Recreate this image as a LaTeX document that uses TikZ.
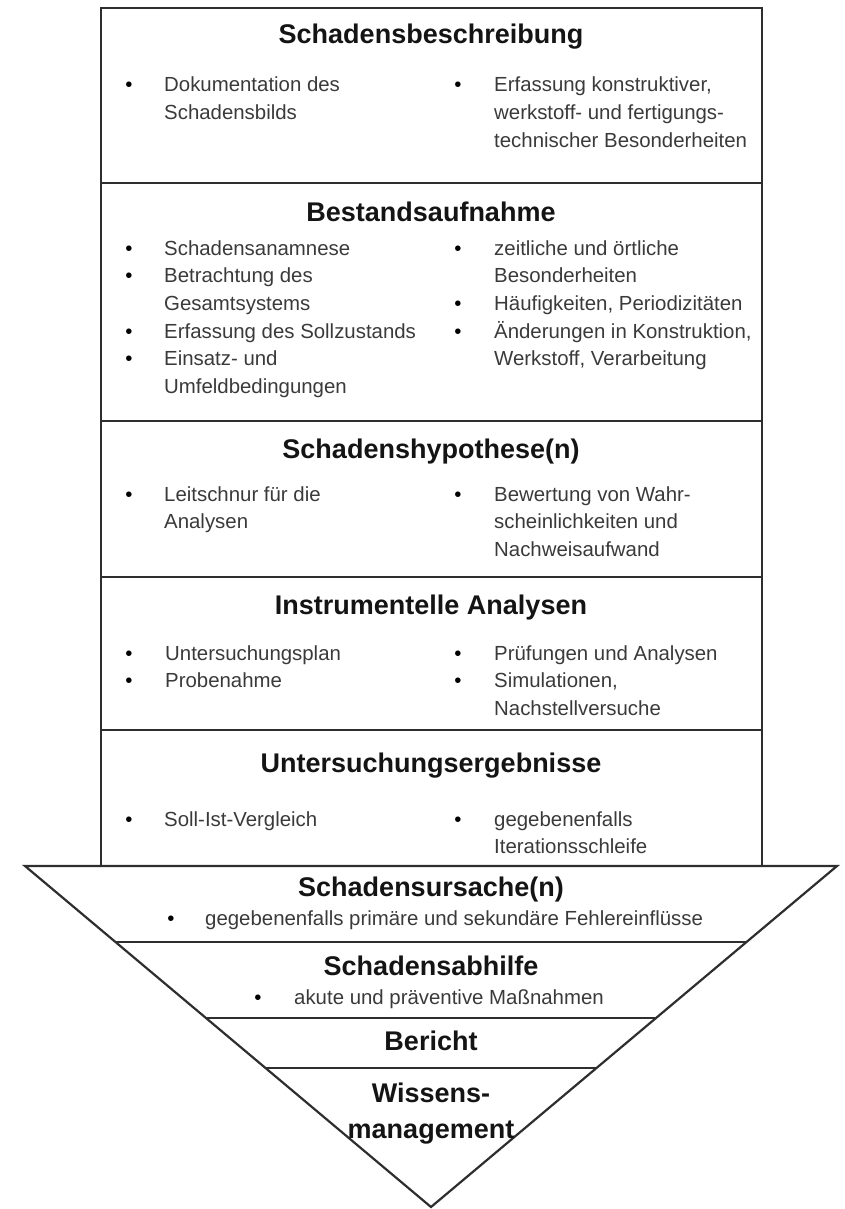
\documentclass[tikz,border=0pt]{standalone}
\usepackage{fontspec}
\setmainfont{Liberation Sans}
\usetikzlibrary{calc}
\definecolor{ln}{HTML}{2E2E2E}
\definecolor{tx}{HTML}{3A3A3A}
\newcommand\itemlines[1]{\begin{tabular}[t]{@{}l@{}}#1\end{tabular}}
\begin{document}
\begin{tikzpicture}[x=1pt,y=-1pt,
  title/.style={anchor=base, inner sep=0, font=\fontsize{27}{34}\selectfont\bfseries, text=black!92},
  item/.style={anchor=base west, inner sep=0, font=\fontsize{20.4}{27.7}\selectfont, text=tx},
  bul/.style={anchor=base, inner sep=0, font=\fontsize{20.4}{27.7}\selectfont, text=black},
  frame/.style={draw=ln, line width=2.2pt, line join=miter},
  sep/.style={draw=ln, line width=2.2pt}]
\useasboundingbox (0,0) rectangle (844,1209);
% outline
\coordinate (TL) at (101,8);
\coordinate (TR) at (762,8);
\coordinate (BL) at (101,866);
\coordinate (BR) at (762,866);
\coordinate (L) at (25,866);
\coordinate (R) at (837,866);
\coordinate (A) at (431,1207);
\draw[frame] (BL) -- (TL) -- (TR) -- (BR);
\draw[frame] (L) -- (R) -- (A) -- cycle;
% rectangle dividers
\coordinate (d1l) at (101,183); \coordinate (d1r) at (762,183);
\coordinate (d2l) at (101,421); \coordinate (d2r) at (762,421);
\coordinate (d3l) at (101,577); \coordinate (d3r) at (762,577);
\coordinate (d4l) at (101,730); \coordinate (d4r) at (762,730);
\draw[sep] (d1l) -- (d1r);
\draw[sep] (d2l) -- (d2r);
\draw[sep] (d3l) -- (d3r);
\draw[sep] (d4l) -- (d4r);
% triangle dividers
\coordinate (t1l) at ($(L)!0.2229!(A)$); \coordinate (t1r) at ($(R)!0.2229!(A)$);
\coordinate (t2l) at ($(L)!0.4457!(A)$); \coordinate (t2r) at ($(R)!0.4457!(A)$);
\coordinate (t3l) at ($(L)!0.5924!(A)$); \coordinate (t3r) at ($(R)!0.5924!(A)$);
\draw[sep] (t1l) -- (t1r);
\draw[sep] (t2l) -- (t2r);
\draw[sep] (t3l) -- (t3r);

% Section 1
\node[title] (h1) at (431,44) {Schadensbeschreibung};
\node[bul] (b1a) at (129,92) {•};
\node[item] (i1a) at (164,92) {\itemlines{Dokumentation des\\Schadensbilds}};
\node[bul] (b1b) at (458,92) {•};
\node[item] (i1b) at (494,92) {\itemlines{Erfassung konstruktiver,\\werkstoff- und fertigungs-\\technischer Besonderheiten}};

% Section 2
\node[title] (h2) at (431,221) {Bestandsaufnahme};
\node[bul] (b2a) at (129,255) {•};
\node[item] (i2a) at (164,255) {Schadensanamnese};
\node[bul] (b2b) at (129,282.7) {•};
\node[item] (i2b) at (164,282.7) {\itemlines{Betrachtung des\\Gesamtsystems}};
\node[bul] (b2c) at (129,338.1) {•};
\node[item] (i2c) at (164,338.1) {Erfassung des Sollzustands};
\node[bul] (b2d) at (129,365.8) {•};
\node[item] (i2d) at (164,365.8) {\itemlines{Einsatz- und\\Umfeldbedingungen}};
\node[bul] (b2e) at (458,255) {•};
\node[item] (i2e) at (494,255) {\itemlines{zeitliche und örtliche\\Besonderheiten}};
\node[bul] (b2f) at (458,310.4) {•};
\node[item] (i2f) at (494,310.4) {Häufigkeiten, Periodizitäten};
\node[bul] (b2g) at (458,338.1) {•};
\node[item] (i2g) at (494,338.1) {\itemlines{Änderungen in Konstruktion,\\Werkstoff, Verarbeitung}};

% Section 3
\node[title] (h3) at (431,458) {Schadenshypothese(n)};
\node[bul] (b3a) at (129,501) {•};
\node[item] (i3a) at (164,501) {\itemlines{Leitschnur für die\\Analysen}};
\node[bul] (b3b) at (458,501) {•};
\node[item] (i3b) at (494,501) {\itemlines{Bewertung von Wahr-\\scheinlichkeiten und\\Nachweisaufwand}};

% Section 4
\node[title] (h4) at (431,614) {Instrumentelle Analysen};
\node[bul] (b4a) at (129,660) {•};
\node[item] (i4a) at (165,660) {Untersuchungsplan};
\node[bul] (b4b) at (129,687.7) {•};
\node[item] (i4b) at (165,687.7) {Probenahme};
\node[bul] (b4c) at (458,660) {•};
\node[item] (i4c) at (494,660) {Prüfungen und Analysen};
\node[bul] (b4d) at (458,687.7) {•};
\node[item] (i4d) at (494,687.7) {\itemlines{Simulationen,\\Nachstellversuche}};

% Section 5
\node[title] (h5) at (431,772) {Untersuchungsergebnisse};
\node[bul] (b5a) at (129,826) {•};
\node[item] (i5a) at (164,826) {Soll-Ist-Vergleich};
\node[bul] (b5b) at (458,826) {•};
\node[item] (i5b) at (494,826) {\itemlines{gegebenenfalls\\Iterationsschleife}};

% Triangle sections
\node[title] (h6) at (431,896) {Schadensursache(n)};
\node[bul] (b6a) at (171,925) {•};
\node[item] (i6a) at (205,925) {gegebenenfalls primäre und sekundäre Fehlereinflüsse};

\node[title] (h7) at (431,975) {Schadensabhilfe};
\node[bul] (b7a) at (258,1004) {•};
\node[item] (i7a) at (294,1004) {akute und präventive Maßnahmen};

\node[title] (h8) at (431,1050) {Bericht};
\node[title] (h9) at (431,1102) {Wissens-};
\node[title] (h10) at (431,1138) {management};
\end{tikzpicture}
\end{document}
